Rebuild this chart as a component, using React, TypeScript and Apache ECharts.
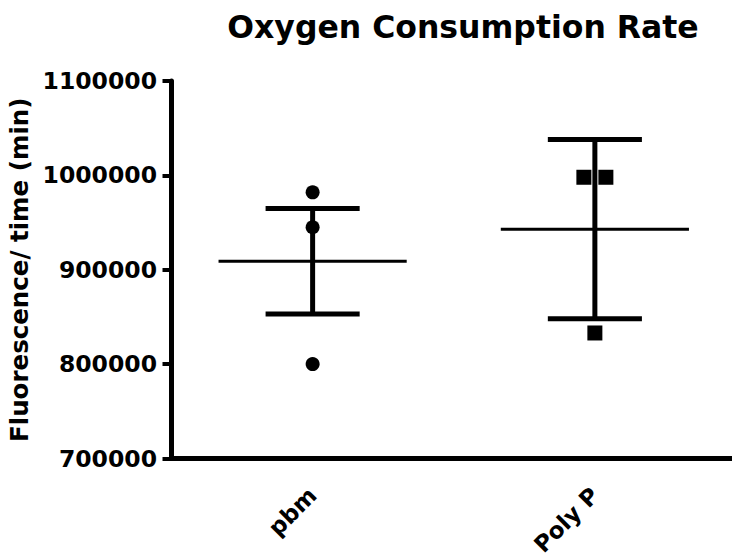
import React, { useEffect, useRef } from "react";
import * as echarts from "echarts";

const title = "Oxygen Consumption Rate";
const yAxisName = "Fluorescence/ time (min)";
const categories = ["pbm", "Poly P"];
const pbmValues = [982000, 945000, 800000];
const polyPValues = [998000, 998000, 833000];
const errors = [56000, 95000];
const yMin = 700000;
const yMax = 1100000;
const yInterval = 100000;

const FONT = "DejaVu Sans";

function mean(a: number[]) {
  return a.reduce((s, v) => s + v, 0) / a.length;
}

function scatterData(catIndex: number, values: number[]) {
  // spread duplicate values side by side, as the reference does
  return values.map((v, i) => {
    const dups = values.filter((w) => w === v);
    let offset = 0;
    if (dups.length > 1) {
      const order = values.slice(0, i).filter((w) => w === v).length;
      offset = (order - (dups.length - 1) / 2) * 22;
    }
    return { value: [catIndex, v], symbolOffset: [offset, 0] };
  });
}

export default function App() {
  const ref = useRef<HTMLDivElement>(null);
  useEffect(() => {
    if (!ref.current) return;
    const chart = echarts.init(ref.current, null, { renderer: "svg" });
    const groups = [pbmValues, polyPValues];
    const summary = groups.map((g, i) => [i, mean(g), errors[i]]);
    chart.setOption({
      animation: false,
      backgroundColor: "#fff",
      title: {
        text: title,
        left: 458,
        top: 6,
        textAlign: "center",
        textStyle: { fontFamily: FONT, fontWeight: "bold", fontSize: 31.5, color: "#000" },
      },
      grid: {
        left: 171.5,
        right: -4,
        top: 81,
        bottom: 99.5,
        containLabel: false,
        outerBoundsMode: "none",
      },
      xAxis: {
        type: "category",
        data: categories,
        boundaryGap: true,
        axisLine: { lineStyle: { color: "#000", width: 5 } },
        axisTick: { alignWithLabel: true, length: 10, lineStyle: { color: "#000", width: 4 } },
        axisLabel: {
          rotate: 45,
          margin: 33,
          color: "#000",
          fontFamily: FONT,
          fontWeight: "bold",
          fontSize: 23,
        },
        splitLine: { show: false },
      },
      yAxis: {
        type: "value",
        min: yMin,
        max: yMax,
        interval: yInterval,
        name: yAxisName,
        nameLocation: "middle",
        nameGap: 131,
        nameTextStyle: { fontFamily: FONT, fontWeight: "bold", fontSize: 24.5, color: "#000" },
        axisLine: { show: true, lineStyle: { color: "#000", width: 5 } },
        axisTick: { show: true, length: 9, lineStyle: { color: "#000", width: 4 } },
        axisLabel: {
          margin: 14.5,
          color: "#000",
          fontFamily: FONT,
          fontWeight: "bold",
          fontSize: 23.5,
          formatter: (v: number) => String(v),
        },
        splitLine: { show: false },
      },
      series: [
        {
          type: "custom",
          data: summary,
          z: 2,
          renderItem: (params: any, api: any) => {
            const idx = api.value(0);
            const m = api.value(1);
            const e = api.value(2);
            const c = api.coord([idx, m]);
            const hi = api.coord([idx, m + e]);
            const lo = api.coord([idx, m - e]);
            const band = api.size([1, 0])[0];
            const mh = band / 3;
            const ch = band / 6;
            const st = (w: number) => ({ stroke: "#000", lineWidth: w, fill: "none" });
            return {
              type: "group",
              children: [
                { type: "line", shape: { x1: c[0] - mh, y1: c[1], x2: c[0] + mh, y2: c[1] }, style: st(3) },
                { type: "line", shape: { x1: c[0], y1: hi[1], x2: c[0], y2: lo[1] }, style: st(5) },
                { type: "line", shape: { x1: c[0] - ch, y1: hi[1], x2: c[0] + ch, y2: hi[1] }, style: st(5) },
                { type: "line", shape: { x1: c[0] - ch, y1: lo[1], x2: c[0] + ch, y2: lo[1] }, style: st(5) },
              ],
            };
          },
        },
        {
          type: "scatter",
          name: categories[0],
          data: scatterData(0, pbmValues),
          symbol: "circle",
          symbolSize: 14,
          itemStyle: { color: "#000", opacity: 1 },
          z: 3,
        },
        {
          type: "scatter",
          name: categories[1],
          data: scatterData(1, polyPValues),
          symbol: "rect",
          symbolSize: 15,
          itemStyle: { color: "#000", opacity: 1 },
          z: 3,
        },
      ],
    });
    return () => chart.dispose();
  }, []);
  return (
    <div
      ref={ref}
      style={{ position: "fixed", left: 0, top: 0, width: 732, height: 558 }}
    />
  );
}
